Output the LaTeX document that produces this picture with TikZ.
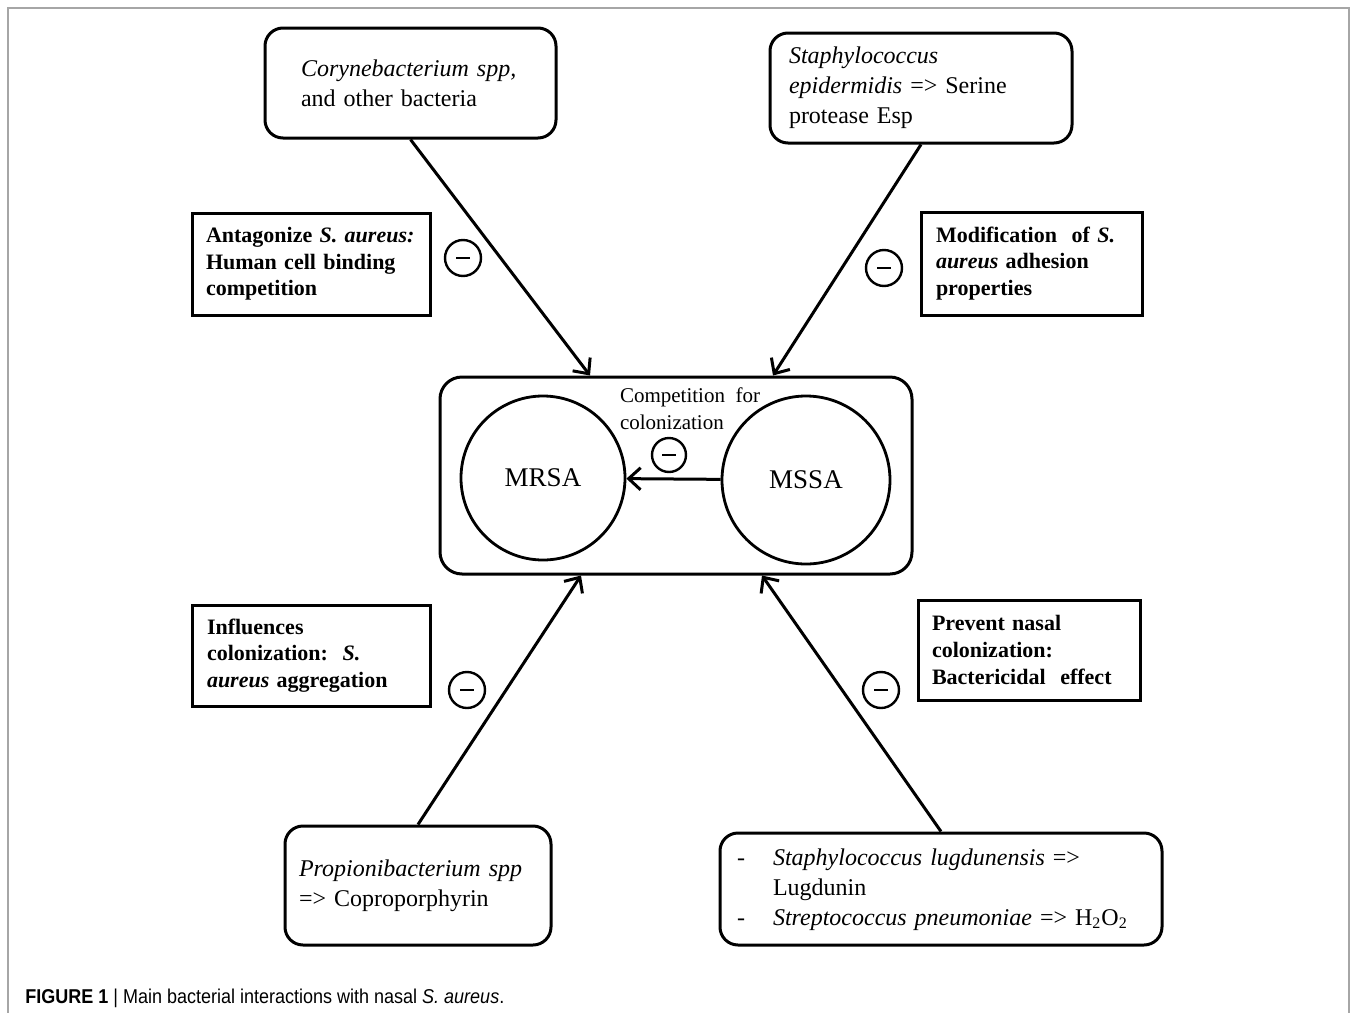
\documentclass[tikz,border=0pt]{standalone}
\usepackage{fontspec}
\setmainfont{Liberation Serif}
\newfontfamily\capfont{Liberation Sans}
\usepackage{graphicx}
\usepackage{tikz}
\usetikzlibrary{arrows.meta}

\begin{document}
\begin{tikzpicture}[x=0.5pt,y=-0.5pt,
	bug/.style={draw,line width=1.5pt,rounded corners=9pt,align=left,font=\fontsize{12}{15}\selectfont},
	effect/.style={draw,line width=1.5pt,align=left,font=\bfseries\fontsize{11}{13.3}\selectfont},
	strain/.style={circle,draw,line width=1.4pt,minimum size=82pt,font=\fontsize{13.5}{16}\selectfont},
	minus/.style={circle,draw,line width=1.2pt,minimum size=18pt,inner sep=0pt},
	arr/.style={line width=1.5pt,-{Straight Barb[length=6pt,width=11pt]}}]

	\useasboundingbox (0,0) rectangle (1357,1013);
	\fill[white] (0,0) rectangle (1357,1013);
	\draw[gray!70,line width=0.8pt] (8,1013) -- (8,8) -- (1349,8) -- (1349,1013);

	\draw[] (410.5,83) node[bug,text width=109.5pt,inner xsep=18pt,minimum height=55pt] (Coryneupper) {\textit{Corynebacterium spp,}\\and other bacteria};
	\draw[] (921,88) node[bug,text width=132pt,inner xsep=9.5pt,minimum height=55pt] (Epiupper) {\textit{Staphylococcus}\\\textit{epidermidis} => Serine\\protease Esp};
	\draw[] (418,885.5) node[bug,text width=119pt,inner xsep=7pt,minimum height=59.5pt] (Propibottom) {\textit{Propionibacterium spp}\\=> Coproporphyrin};
	\draw[] (941,889) node[bug,text width=204pt,inner xsep=8.5pt,minimum height=56pt] (Lugdbottom) {\begin{tabular}{@{}p{18pt}@{}l@{}}-&\textit{Staphylococcus lugdunensis} =>\\&Lugdunin\\-&\textit{Streptococcus pneumoniae} => H\textsubscript{2}O\textsubscript{2}\end{tabular}};

	\draw[] (311,264) node[effect,text width=105pt,inner xsep=7pt,minimum height=51pt] (Antagleft) {Antagonize \textit{S. aureus:}\\Human\ cell binding\\competition};
	\draw[] (1031.5,263.5) node[effect,text width=95.5pt,inner xsep=7.5pt,minimum height=51.5pt] (Modifright) {Modification\ \ of \textit{S.}\\\textit{aureus} adhesion\\properties};
	\draw[] (311,655.5) node[effect,text width=104pt,inner xsep=7.5pt,minimum height=50.5pt] (Influleft) {Influences\\colonization:\ \ \textit{S.}\\\textit{aureus} aggregation};
	\draw[] (1029,650) node[effect,text width=97pt,inner xsep=7pt,minimum height=50pt] (Preventright) {Prevent nasal\\colonization:\\Bactericidal\ \ effect};

	\draw[] (676,475.5) node[draw,line width=1.5pt,rounded corners=11pt,minimum width=236pt,minimum height=98.5pt] (Colonbox) {};
	\draw[] (543,478) node[strain] (MRSAleft) {MRSA};
	\draw[] (806,480) node[strain,minimum size=84pt] (MSSAright) {MSSA};
	\draw[] (690,409) node[align=left,font=\fontsize{10.5}{13.5}\selectfont] (Competition) {Competition\ \ for\\colonization};

	\draw[] (463,258) node[minus] (Mupleft) {\rule{7pt}{1.3pt}};
	\draw[] (884,268) node[minus] (Mupright) {\rule{7pt}{1.3pt}};
	\draw[] (669,455) node[minus,minimum size=17pt] (Mmiddle) {\rule{7pt}{1.3pt}};
	\draw[] (467,690) node[minus] (Mlowleft) {\rule{7pt}{1.3pt}};
	\draw[] (881,690) node[minus] (Mlowright) {\rule{7pt}{1.3pt}};

	\draw[arr] (Coryneupper.south) -- ([xshift=-43pt]Colonbox.north);
	\draw[arr] (Epiupper.south) -- ([xshift=48.5pt]Colonbox.north);
	\draw[arr] (Propibottom.north) -- ([xshift=-47.5pt]Colonbox.south);
	\draw[arr] (Lugdbottom.north) -- ([xshift=43pt]Colonbox.south);
	\draw[arr] (MSSAright) -- (MRSAleft);

	\draw[] (25,998) node[anchor=west,inner sep=0pt,font=\capfont\fontsize{10}{12}\selectfont] (Caption) {\scalebox{0.9}[1]{\textbf{FIGURE 1} | Main bacterial interactions with nasal \textit{S. aureus}.}};
\end{tikzpicture}
\end{document}
